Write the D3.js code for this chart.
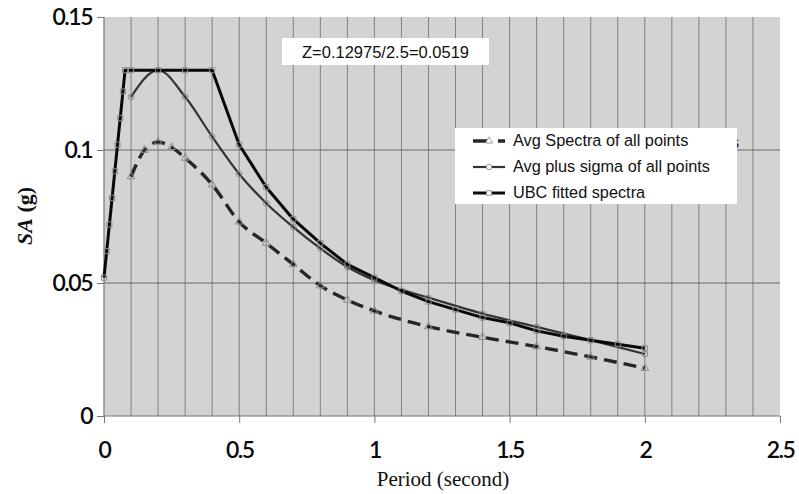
<!DOCTYPE html>
<html>
<head>
<meta charset="utf-8">
<script src="https://cdn.jsdelivr.net/npm/d3@7"></script>
<style>
    body { margin: 0; background: #fff; }
    svg { display: block; }
</style>
</head>
<body>
<div id="chart"></div>
<script>
// 数据
const ubcPeriod = [0, 0.01, 0.02, 0.03, 0.04, 0.05, 0.06, 0.07, 0.078, 0.1, 0.2, 0.3, 0.4,
    0.5, 0.6, 0.7, 0.8, 0.9, 1.0, 1.1, 1.2, 1.3, 1.4, 1.5, 1.6, 1.7, 1.8, 1.9, 2.0];
const ubcValues = [0.052, 0.062, 0.072, 0.082, 0.092, 0.102, 0.112, 0.122, 0.13, 0.13, 0.13, 0.13, 0.13,
    0.102, 0.086, 0.074, 0.065, 0.057, 0.052, 0.047, 0.043, 0.040, 0.037, 0.035, 0.032, 0.030, 0.0285, 0.027, 0.0255];

const sigmaPeriod = [0.1, 0.2, 0.3, 0.4, 0.5, 0.6, 0.7, 0.8, 0.9, 1.0, 1.2, 1.4, 1.6, 1.8, 2.0];
const sigmaValues = [0.12, 0.13, 0.12, 0.105, 0.091, 0.08, 0.071, 0.063, 0.056, 0.051, 0.0445, 0.0385, 0.0335, 0.0285, 0.0233];

const avgPeriod = [0.1, 0.15, 0.2, 0.25, 0.3, 0.4, 0.5, 0.6, 0.7, 0.8, 0.9, 1.0, 1.2, 1.4, 1.6, 1.8, 2.0];
const avgValues = [0.09, 0.1, 0.103, 0.101, 0.097, 0.087, 0.073, 0.065, 0.057, 0.049, 0.0436, 0.0395, 0.0336, 0.0296, 0.0261, 0.0222, 0.018];

const xTicks = [0, 0.5, 1, 1.5, 2, 2.5];
const yTicks = [0, 0.05, 0.1, 0.15];
const xTickLabels = ['0', '0.5', '1', '1.5', '2', '2.5'];
const yTickLabels = ['0', '0.05', '0.1', '0.15'];
const legendLabels = ['Avg Spectra of all points', 'Avg plus sigma of all points', 'UBC fitted spectra'];
const noteText = 'Z=0.12975/2.5=0.0519';

const width = 799, height = 494;
const margins = { top: 17, right: 19, bottom: 78, left: 104 };
const innerW = width - margins.left - margins.right;
const innerH = height - margins.top - margins.bottom;

const svg = d3.select('#chart').append('svg')
    .attr('width', width)
    .attr('height', height);

const x = d3.scaleLinear().domain([0, 2.5]).range([0, innerW]);
const y = d3.scaleLinear().domain([0, 0.15]).range([innerH, 0]);

const g = svg.append('g')
    .attr('transform', `translate(${margins.left},${margins.top})`);

// 背景
g.append('rect')
    .attr('width', innerW)
    .attr('height', innerH)
    .attr('fill', '#d3d3d3');

// 竖直网格
g.selectAll('line.vgrid')
    .data(d3.range(1, 25).map(i => i / 10))
    .enter()
    .append('line')
    .attr('class', 'vgrid')
    .attr('x1', d => x(d)).attr('x2', d => x(d))
    .attr('y1', 0).attr('y2', innerH)
    .attr('stroke', '#808080')
    .attr('stroke-width', 1);

// 水平网格
g.selectAll('line.hgrid')
    .data([0.05, 0.1])
    .enter()
    .append('line')
    .attr('class', 'hgrid')
    .attr('x1', 0).attr('x2', innerW)
    .attr('y1', d => y(d)).attr('y2', d => y(d))
    .attr('stroke', '#6a6a6a')
    .attr('stroke-width', 1);

// 坐标轴
const tickFont = 'Lato, "Open Sans", sans-serif';
const xAxis = g.append('g')
    .attr('transform', `translate(0,${innerH})`)
    .call(d3.axisBottom(x).tickValues(xTicks).tickSize(7).tickPadding(19)
        .tickFormat((d, i) => xTickLabels[i]));
const yAxis = g.append('g')
    .call(d3.axisLeft(y).tickValues(yTicks).tickSize(7).tickPadding(5)
        .tickFormat((d, i) => yTickLabels[i]));

[xAxis, yAxis].forEach(ax => {
    ax.select('.domain').attr('stroke', '#777').attr('stroke-width', 1.2);
    ax.selectAll('.tick line').attr('stroke', '#777');
    ax.selectAll('.tick text')
        .attr('fill', '#0a0a0a')
        .style('font-family', tickFont)
        .style('font-size', '23px')
        .style('font-weight', '600')
        .style('letter-spacing', '-1.5px');
});
xAxis.select('.domain').attr('d', `M0,0H${innerW}`);
yAxis.select('.domain').attr('d', `M0,${innerH}V0`);

// 轴标题
svg.append('text')
    .attr('x', 443)
    .attr('y', 486)
    .attr('text-anchor', 'middle')
    .style('font-family', '"Liberation Serif", "Times New Roman", serif')
    .style('font-size', '21px')
    .attr('fill', '#111')
    .text('Period (second)');

const yTitle = svg.append('text')
    .attr('transform', 'translate(32,216) rotate(-90)')
    .attr('text-anchor', 'middle')
    .style('font-family', '"Liberation Serif", "Times New Roman", serif')
    .style('font-size', '22px')
    .style('font-weight', 'bold')
    .attr('fill', '#111');
yTitle.append('tspan').style('font-style', 'italic').text('SA');
yTitle.append('tspan').text(' (g)');

// 曲线
const series = [
    { period: avgPeriod, values: avgValues, marker: 'triangle', dash: '13,7', width: 3.4, color: '#262626', curve: d3.curveMonotoneX },
    { period: sigmaPeriod, values: sigmaValues, marker: 'circle', dash: null, width: 2.2, color: '#333', curve: d3.curveMonotoneX },
    { period: ubcPeriod, values: ubcValues, marker: 'square', dash: null, width: 3, color: '#080808', curve: d3.curveLinear }
];

const symbolType = {
    triangle: d3.symbolTriangle,
    circle: d3.symbolCircle,
    square: d3.symbolSquare
};

series.forEach(s => {
    const pts = s.period.map((p, i) => ({ p: p, v: s.values[i] }));
    const line = d3.line()
        .curve(s.curve)
        .x(d => x(d.p))
        .y(d => y(d.v));
    g.append('path')
        .datum(pts)
        .attr('d', line)
        .attr('fill', 'none')
        .attr('stroke', s.color)
        .attr('stroke-width', s.width)
        .attr('stroke-dasharray', s.dash)
        .attr('stroke-linejoin', 'round');
    g.selectAll('path.m-' + s.marker)
        .data(pts)
        .enter()
        .append('path')
        .attr('class', 'm-' + s.marker)
        .attr('transform', d => `translate(${x(d.p)},${y(d.v)})`)
        .attr('d', d3.symbol().type(symbolType[s.marker]).size(26))
        .attr('fill', 'none')
        .attr('stroke', '#8a8a8a')
        .attr('stroke-width', 1);
});

// 注释框
const noteG = svg.append('g');
noteG.append('rect')
    .attr('x', 282).attr('y', 38)
    .attr('width', 207).attr('height', 27)
    .attr('fill', '#fff');
noteG.append('text')
    .attr('x', 385.5).attr('y', 58)
    .attr('text-anchor', 'middle')
    .style('font-family', '"Liberation Sans", Arial, sans-serif')
    .style('font-size', '16.5px')
    .attr('fill', '#111')
    .text(noteText);

// 图例 (后面残留的字)
const legendG = svg.append('g');
legendG.selectAll('text.ghost')
    .data(['s', 'j'])
    .enter()
    .append('text')
    .attr('class', 'ghost')
    .attr('x', 731)
    .attr('y', (d, i) => 148 + i * 25)
    .style('font-family', '"Liberation Sans", Arial, sans-serif')
    .style('font-size', '16px')
    .attr('fill', '#111')
    .text(d => d);
legendG.append('rect')
    .attr('x', 455).attr('y', 128)
    .attr('width', 282).attr('height', 76)
    .attr('fill', '#fff');

legendLabels.forEach((label, i) => {
    const s = series[i];
    const cy = 141 + i * 26;
    legendG.append('line')
        .attr('x1', 473).attr('x2', 505)
        .attr('y1', cy).attr('y2', cy)
        .attr('stroke', s.color)
        .attr('stroke-width', s.width)
        .attr('stroke-dasharray', s.dash ? '15,10' : null);
    legendG.append('path')
        .attr('transform', `translate(489,${cy})`)
        .attr('d', d3.symbol().type(symbolType[s.marker]).size(22))
        .attr('fill', '#fff')
        .attr('stroke', '#999')
        .attr('stroke-width', 1);
    legendG.append('text')
        .attr('x', 513)
        .attr('y', cy + 5)
        .style('font-family', '"Liberation Sans", Arial, sans-serif')
        .style('font-size', '16.3px')
        .attr('fill', '#111')
        .text(label);
});
</script>
</body>
</html>
